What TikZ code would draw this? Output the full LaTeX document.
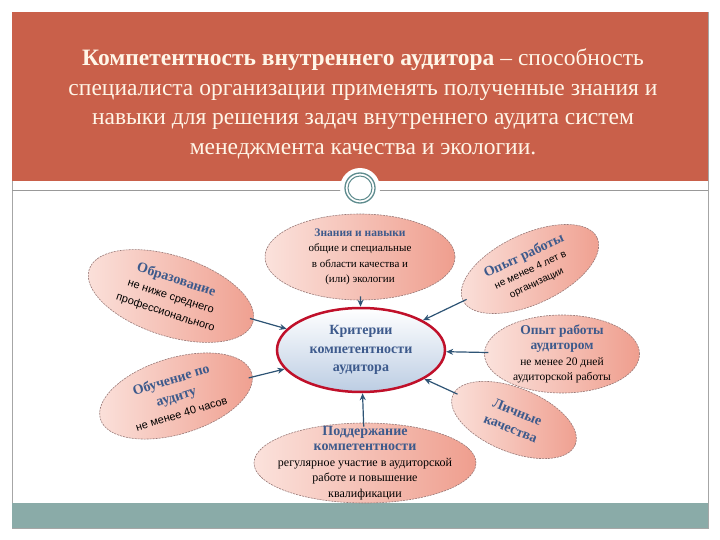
\documentclass[tikz,border=0pt]{standalone}
\usepackage{fontspec}
\setmainfont{Liberation Serif}
\newfontfamily\arialfont{Liberation Sans}
\usetikzlibrary{shapes.geometric,arrows.meta}

\definecolor{headred}{HTML}{C9604A}
\definecolor{barteal}{HTML}{8AABA8}
\definecolor{ringteal}{HTML}{5E8C8E}
\definecolor{headblue}{HTML}{3D5A8C}
\definecolor{arrowblue}{HTML}{2E5475}
\definecolor{pinkL}{HTML}{FBE2DC}
\definecolor{pinkR}{HTML}{EF9E8E}
\definecolor{petaledge}{HTML}{9A7A78}
\definecolor{critred}{HTML}{C0102A}
\definecolor{critblue}{HTML}{BCCDE3}
\definecolor{creamtext}{HTML}{FFF6E8}

\tikzset{
  petal/.style={ellipse, draw=petaledge, dash pattern=on 2pt off 1pt, line width=0.6pt,
                left color=pinkL, right color=pinkR, align=center, inner sep=0pt},
  hub/.style={ellipse, draw=critred, line width=2.5pt, top color=white, bottom color=critblue,
              align=center, inner sep=0pt},
  feed/.style={draw=arrowblue, line width=1.2pt, -{Stealth[length=7pt, width=6pt]}, shorten <=-4pt},
}
\newcommand{\hd}[1]{{\bfseries\color{headblue}#1}}

\begin{document}
\begin{tikzpicture}[x=1pt, y=-1pt]
  \useasboundingbox (0,0) rectangle (720,540);
  \fill[white] (0,0) rectangle (720,540);
  % slide frame
  \draw[gray!70, line width=0.6pt] (12,12) rectangle (708,528);
  \fill[headred] (12,12) rectangle (708,181);
  \fill[barteal] (12,503) rectangle (708,528);
  \draw[gray!80, line width=0.8pt] (12,190) -- (708,190);
  \fill[white] (360,188) circle (20);
  \draw[ringteal, line width=1.3pt] (360,188) circle (15);
  \draw[ringteal, line width=1pt] (360,188) circle (12);

  \node (title) at (363,104) [align=center, text=creamtext, font=\fontsize{23.5}{29.5}\selectfont]
    {\textbf{Компетентность внутреннего аудитора} -- способность\\
     специалиста организации применять полученные знания и\\
     навыки для решения задач внутреннего аудита систем\\
     менеджмента качества и экологии.};

  % petals
  \node (know) at (360,257) [petal, minimum width=190, minimum height=86, font=\fontsize{11}{15.5}\selectfont]
    {\hd{\fontsize{11.5}{15.5}\selectfont Знания и навыки}\\ общие и специальные\\ в области качества и\\ (или) экологии};
  \node (edu) at (171,296) [petal, rotate=-18, minimum width=172, minimum height=80, font=\arialfont\fontsize{11}{17}\selectfont]
    {\hd{\rmfamily\fontsize{14}{18}\selectfont Образование}\\ не ниже среднего\\ профессионального};
  \node (train) at (176,396) [petal, rotate=17, minimum width=158, minimum height=76, font=\arialfont\fontsize{11}{17.5}\selectfont]
    {\hd{\rmfamily\fontsize{14}{17.5}\selectfont Обучение по}\\ \hd{\rmfamily\fontsize{14}{17.5}\selectfont аудиту}\\ не менее 40 часов};
  \node (exp) at (530,269) [petal, rotate=25, minimum width=148, minimum height=70, font=\arialfont\fontsize{10}{14.5}\selectfont]
    {\hd{\rmfamily\fontsize{14}{17.5}\selectfont Опыт работы}\\ не менее 4 лет в\\ организации};
  \node (aud) at (562,354) [petal, inner ysep=-5pt, minimum width=155, minimum height=78, font=\fontsize{11.5}{15.5}\selectfont]
    {\hd{\fontsize{13.5}{16.5}\selectfont Опыт работы}\\ \hd{\fontsize{13.5}{16.5}\selectfont аудитором}\\ не менее 20 дней\\ аудиторской работы};
  \node (pers) at (514,420) [petal, rotate=-22, minimum width=132, minimum height=64, font=\fontsize{14}{18}\selectfont]
    {\hd{Личные}\\ \hd{качества}};
  \node (keep) at (365,463) [petal, inner xsep=-12pt, inner ysep=-10pt, minimum width=222, minimum height=80, font=\fontsize{12}{15.5}\selectfont]
    {\hd{\fontsize{14}{16}\selectfont Поддержание}\\ \hd{\fontsize{14}{16}\selectfont компетентности}\\
     регулярное участие в аудиторской\\ работе и повышение\\ квалификации};

  % hub
  \node (crit) at (361,350) [hub, minimum width=168, minimum height=84, font=\fontsize{14}{18.5}\selectfont]
    {\hd{Критерии}\\ \hd{компетентности}\\ \hd{аудитора}};

  \draw[feed] (know) -- (crit);
  \draw[feed] (edu) -- (crit);
  \draw[feed] (train) -- (crit);
  \draw[feed] (exp) -- (crit);
  \draw[feed] (aud) -- (crit);
  \draw[feed] (pers) -- (crit);
  \draw[feed] (keep) -- (crit);
\end{tikzpicture}
\end{document}
